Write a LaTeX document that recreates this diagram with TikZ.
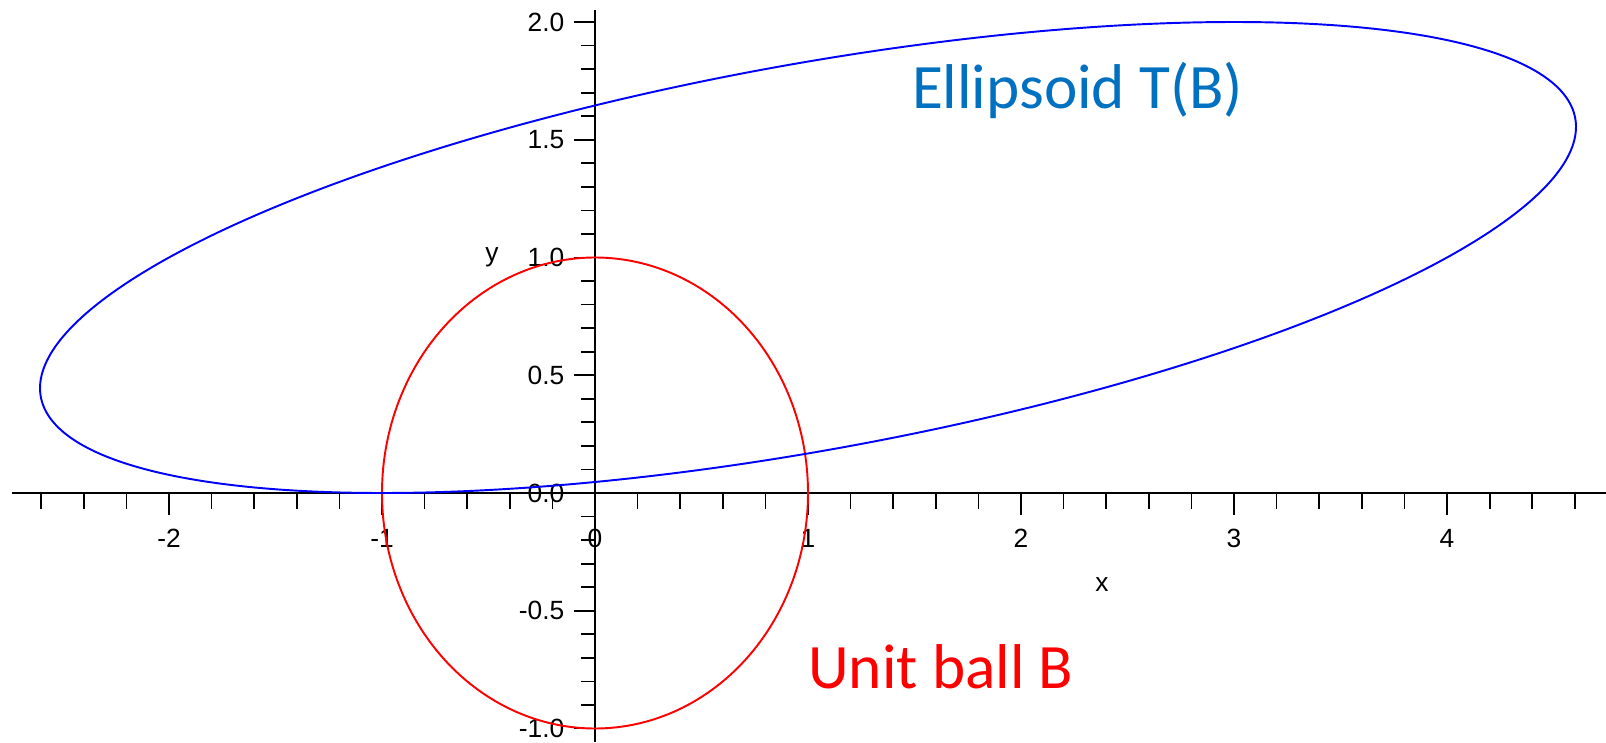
\documentclass[tikz,border=0pt]{standalone}
\usepackage{fontspec}
\setmainfont{Carlito}
\newfontfamily\tickfont{Liberation Sans}
\usetikzlibrary{positioning}
\definecolor{ballred}{HTML}{FF0000}
\definecolor{ellblue}{HTML}{0000FF}
\definecolor{labelblue}{HTML}{0070C0}

\begin{document}
\begin{tikzpicture}[
      x=2.13cm, y=2.355cm,
      axisline/.style={line width=0.6pt, black},
      tickline/.style={line width=0.5pt, black},
      ticklabel/.style={font=\tickfont\fontsize{7.5}{8}\selectfont, inner sep=0pt},
      curveline/.style={line width=0.55pt, #1},
      biglabel/.style={font=\fontsize{18}{20}\selectfont, inner sep=0pt, anchor=base, text=#1},
    ]
    \useasboundingbox (-5.95cm,-2.49cm) rectangle (10.11cm,4.93cm);

    % axes
    \coordinate (xleft)  at (-5.83cm,0);
    \coordinate (xright) at (10.11cm,0);
    \coordinate (ytop)   at (0,4.83cm);
    \coordinate (ybot)   at (0,-2.49cm);
    \draw[axisline] (xleft) -- (xright);
    \draw[axisline] (ybot) -- (ytop);

    % x ticks
    \foreach \k in {-13,...,23}
      \draw[tickline] (\k/5,0) -- ++(0,-0.16cm);
    \foreach \k in {-2,...,4}{
      \draw[tickline] (\k,0) -- ++(0,-0.22cm);
      \node[ticklabel] (xl\k) at ([yshift=-0.45cm]\k,0) {\k};
    }

    % y ticks
    \foreach \k in {-10,...,20}
      \draw[tickline] (0,\k/10) -- ++(-0.14cm,0);
    \foreach \k/\lab in {-1/-1.0, -0.5/-0.5, 0/0.0, 0.5/0.5, 1/1.0, 1.5/1.5, 2/2.0}{
      \draw[tickline] (0,\k) -- ++(-0.21cm,0);
      \node[ticklabel, anchor=east] (yl\lab) at ([xshift=-0.30cm]0,\k) {\lab};
    }

    % axis names
    \node[ticklabel] (xname) at (2.38,-0.39) {x};
    \node[ticklabel] (yname) at (-0.484,1.0) {y};

    % unit ball and its image
    \draw[curveline=ballred] plot[variable=\t, domain=0:360, samples=181, smooth]
      ({cos(\t)},{sin(\t)});
    \draw[curveline=ellblue] plot[variable=\t, domain=0:360, samples=181, smooth]
      ({1+2*cos(\t)+3*sin(\t)},{1+cos(\t)});

    % labels
    \node[biglabel=labelblue] (ellname) at (2.266,1.634) {Ellipsoid T(B)};
    \node[biglabel=ballred]   (ballname) at (1.624,-0.829) {Unit ball B};
  \end{tikzpicture}
\end{document}
